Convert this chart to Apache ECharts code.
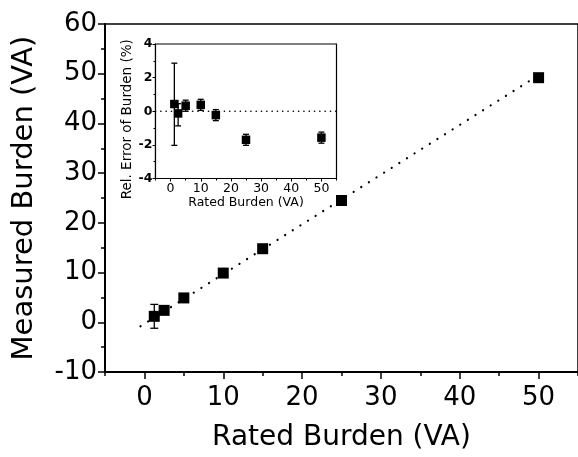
<!DOCTYPE html>
<html>
<head>
<meta charset="utf-8">
<script src="https://cdn.jsdelivr.net/npm/echarts@6/dist/echarts.min.js"></script>
<style>html,body{margin:0;padding:0;background:#fff}#c{width:578px;height:457px}</style>
</head>
<body>
<div id="c"></div>
<script>
// Main plot data
const ratedBurden = [1.25, 2.5, 5, 10, 15, 25, 50];
const measuredBurden = [1.2, 2.4, 4.9, 9.9, 14.8, 24.5, 49.2];
const mainErrLow = [-1.2, null, null, null, null, null, null];
const mainErrHigh = [3.6, null, null, null, null, null, null];
const fitLineX = [-0.5, 50];
const fitLineY = [-0.8, 49.7];
// Inset data
const insetX = [1.25, 2.5, 5, 10, 15, 25, 50];
const relError = [0.43, -0.13, 0.33, 0.38, -0.23, -1.7, -1.57];
const relErrLow = [-2.03, -0.87, 0.0, 0.05, -0.56, -2.03, -1.9];
const relErrHigh = [2.86, 0.45, 0.66, 0.71, 0.1, -1.37, -1.24];
const zeroLineX = [-5, 55];
const zeroLineY = [0, 0];
// Tick labels
const mainXTicks = [0, 10, 20, 30, 40, 50];
const mainXMinor = [-5, 5, 15, 25, 35, 45, 55];
const insetXTicks = [0, 10, 20, 30, 40, 50];
const insetXMinor = [-5, 5, 15, 25, 35, 45, 55];

const FONT = 'DejaVu Sans, sans-serif';
const chart = echarts.init(document.getElementById('c'));

function errBar(capW) {
  return function (params, api) {
    const x = api.value(0), lo = api.value(1), hi = api.value(2);
    const pLo = api.coord([x, lo]);
    const pHi = api.coord([x, hi]);
    const st = {stroke: '#000', lineWidth: 1.3};
    return {
      type: 'group',
      children: [
        {type: 'line', shape: {x1: pLo[0], y1: pLo[1], x2: pHi[0], y2: pHi[1]}, style: st},
        {type: 'line', shape: {x1: pLo[0] - capW, y1: pLo[1], x2: pLo[0] + capW, y2: pLo[1]}, style: st},
        {type: 'line', shape: {x1: pHi[0] - capW, y1: pHi[1], x2: pHi[0] + capW, y2: pHi[1]}, style: st}
      ]
    };
  };
}

const mainErrData = ratedBurden.map((x, i) => [x, mainErrLow[i], mainErrHigh[i]]).filter(d => d[1] !== null);
const insetErrData = insetX.map((x, i) => [x, relErrLow[i], relErrHigh[i]]);

chart.setOption({
  animation: false,
  backgroundColor: '#fff',
  grid: [
    {left: 105, top: 24, width: 473, height: 350, show: true, borderColor: '#000', borderWidth: 1.5, backgroundColor: 'transparent'},
    {left: 155.5, top: 44, width: 181, height: 134.5, show: true, borderColor: '#000', borderWidth: 1.2, backgroundColor: '#fff', z: 5}
  ],
  xAxis: [
    {
      type: 'value', gridIndex: 0, min: -5, max: 55,
      axisLine: {show: true, onZero: false, lineStyle: {color: '#000', width: 2}},
      axisTick: {show: true, customValues: mainXTicks, length: 7, lineStyle: {color: '#000', width: 1.5}},
      axisLabel: {customValues: mainXTicks, color: '#000', fontSize: 26, fontFamily: FONT, margin: 13},
      splitLine: {show: false},
      name: 'Rated Burden (VA)', nameLocation: 'middle', nameGap: 52,
      nameTextStyle: {color: '#000', fontSize: 28, fontFamily: FONT}
    },
    {
      type: 'value', gridIndex: 0, min: -5, max: 55, position: 'bottom',
      axisLine: {show: false, onZero: false},
      axisTick: {show: true, customValues: mainXMinor, length: 4, lineStyle: {color: '#000', width: 1.5}},
      axisLabel: {show: false, customValues: mainXMinor},
      splitLine: {show: false}
    },
    {
      type: 'value', gridIndex: 1, min: -5, max: 55,
      axisLine: {show: true, onZero: false, lineStyle: {color: '#000', width: 1.2}},
      axisTick: {show: true, customValues: insetXTicks, length: 3, lineStyle: {color: '#000'}},
      axisLabel: {customValues: insetXTicks, color: '#000', fontSize: 12.5, fontFamily: FONT, margin: 4},
      splitLine: {show: false},
      name: 'Rated Burden (VA)', nameLocation: 'middle', nameGap: 18,
      nameTextStyle: {color: '#000', fontSize: 12.5, fontFamily: FONT}
    },
    {
      type: 'value', gridIndex: 1, min: -5, max: 55, position: 'bottom',
      axisLine: {show: false, onZero: false},
      axisTick: {show: true, customValues: insetXMinor, length: 2, lineStyle: {color: '#000'}},
      axisLabel: {show: false, customValues: insetXMinor},
      splitLine: {show: false}
    }
  ],
  yAxis: [
    {
      type: 'value', gridIndex: 0, min: -10, max: 60, interval: 10,
      axisLine: {show: true, onZero: false, lineStyle: {color: '#000', width: 2}},
      axisTick: {show: true, length: 7, lineStyle: {color: '#000', width: 1.5}},
      minorTick: {show: true, splitNumber: 2, length: 4, lineStyle: {color: '#000', width: 1.5}},
      axisLabel: {color: '#000', fontSize: 26, fontFamily: FONT, margin: 8},
      splitLine: {show: false},
      name: 'Measured Burden (VA)', nameLocation: 'middle', nameGap: 66, nameRotate: 90,
      nameTextStyle: {color: '#000', fontSize: 29, fontFamily: FONT}
    },
    {
      type: 'value', gridIndex: 1, min: -4, max: 4, interval: 2,
      axisLine: {show: true, onZero: false, lineStyle: {color: '#000', width: 1.2}},
      axisTick: {show: true, length: 3, lineStyle: {color: '#000'}},
      minorTick: {show: true, splitNumber: 2, length: 2, lineStyle: {color: '#000'}},
      axisLabel: {color: '#000', fontSize: 12.5, fontFamily: FONT, fontWeight: 'bold', margin: 3},
      splitLine: {show: false},
      name: 'Rel. Error of Burden (%)', nameLocation: 'middle', nameGap: 20, nameRotate: 90,
      nameTextStyle: {color: '#000', fontSize: 13.5, fontFamily: FONT, padding: [0, 16, 0, 0]}
    }
  ],
  series: [
    {
      type: 'line', xAxisIndex: 0, yAxisIndex: 0,
      data: fitLineX.map((x, i) => [x, fitLineY[i]]),
      symbol: 'none', lineStyle: {color: '#000', width: 2.2, type: [0.1, 8.9], cap: 'round'}, z: 2
    },
    {
      type: 'custom', xAxisIndex: 0, yAxisIndex: 0,
      renderItem: errBar(4), data: mainErrData, z: 3
    },
    {
      type: 'scatter', xAxisIndex: 0, yAxisIndex: 0,
      data: ratedBurden.map((x, i) => [x, measuredBurden[i]]),
      symbol: 'rect', symbolSize: 11, itemStyle: {color: '#000', opacity: 1}, z: 4
    },
    {
      type: 'line', xAxisIndex: 2, yAxisIndex: 1,
      data: zeroLineX.map((x, i) => [x, zeroLineY[i]]),
      symbol: 'none', lineStyle: {color: '#000', width: 1.6, type: [0.1, 5.2], cap: 'round'}, z: 6
    },
    {
      type: 'custom', xAxisIndex: 2, yAxisIndex: 1,
      renderItem: errBar(3), data: insetErrData, z: 7
    },
    {
      type: 'scatter', xAxisIndex: 2, yAxisIndex: 1,
      data: insetX.map((x, i) => [x, relError[i]]),
      symbol: 'rect', symbolSize: 8.5, itemStyle: {color: '#000', opacity: 1}, z: 8
    }
  ]
});
</script>
</body>
</html>
